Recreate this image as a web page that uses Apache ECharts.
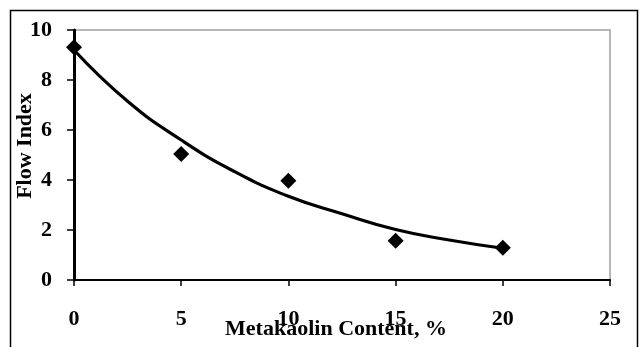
<!DOCTYPE html>
<html>
<head>
<meta charset="utf-8">
<script src="https://cdn.jsdelivr.net/npm/echarts@6/dist/echarts.min.js"></script>
<style>html,body{margin:0;padding:0;background:#fff}#c{width:640px;height:347px}</style>
</head>
<body>
<div id="c"></div>
<script>
const pointX = [0, 5, 10, 15, 20];
const pointY = [9.31, 5.04, 3.97, 1.57, 1.29];
const trendX = [0, 2.5, 5, 7.5, 10, 12.5, 15, 17.5, 20];
const trendY = [9.2, 7.15, 5.6, 4.33, 3.35, 2.65, 2.02, 1.6, 1.27];
const xTitle = 'Metakaolin Content, %';
const yTitle = 'Flow Index';

const font = '"Liberation Serif", "Times New Roman", serif';
const chart = echarts.init(document.getElementById('c'), null, {renderer: 'canvas'});
chart.setOption({
  animation: false,
  backgroundColor: '#fff',
  grid: {left: 74, right: 30, top: 30, bottom: 67, containLabel: false, outerBoundsMode: 'none',
    show: true, borderColor: '#a0a0a0', borderWidth: 1.5, backgroundColor: 'transparent'},
  graphic: [{
    type: 'rect', shape: {x: 10.5, y: 10.5, width: 627, height: 345},
    style: {fill: 'none', stroke: '#000', lineWidth: 1.5}, silent: true, z: 100
  }],
  xAxis: {
    type: 'value', min: 0, max: 25, interval: 5,
    name: xTitle, nameLocation: 'middle', nameGap: 38, nameMoveOverlap: false,
    nameTextStyle: {fontFamily: font, fontWeight: 'bold', fontSize: 22, color: '#000', padding: [0, 12, 0, 0]},
    axisLine: {show: true, onZero: false, lineStyle: {color: '#000', width: 2}},
    axisTick: {show: true, inside: false, length: 6, lineStyle: {color: '#000', width: 1.5}},
    axisLabel: {fontFamily: font, fontWeight: 'bold', fontSize: 22, color: '#000', margin: 28},
    splitLine: {show: false}
  },
  yAxis: {
    type: 'value', min: 0, max: 10, interval: 2,
    name: yTitle, nameLocation: 'middle', nameGap: 38, nameRotate: 90, nameMoveOverlap: false,
    nameTextStyle: {fontFamily: font, fontWeight: 'bold', fontSize: 22, color: '#000', padding: [0, 0, 0, 18]},
    axisLine: {show: true, lineStyle: {color: '#000', width: 3}},
    axisTick: {show: true, inside: false, length: 7, lineStyle: {color: '#000', width: 1.5}},
    axisLabel: {fontFamily: font, fontWeight: 'bold', fontSize: 22, color: '#000', margin: 22},
    splitLine: {show: false}
  },
  series: [{
    type: 'line', data: trendX.map((x, i) => [x, trendY[i]]),
    smooth: true, showSymbol: false, symbol: 'none',
    lineStyle: {color: '#000', width: 3.2, opacity: 1}, z: 2
  }, {
    type: 'scatter', data: pointX.map((x, i) => [x, pointY[i]]),
    symbol: 'diamond', symbolSize: [16, 16],
    itemStyle: {color: '#000', opacity: 1}, z: 3
  }]
});
</script>
</body>
</html>
